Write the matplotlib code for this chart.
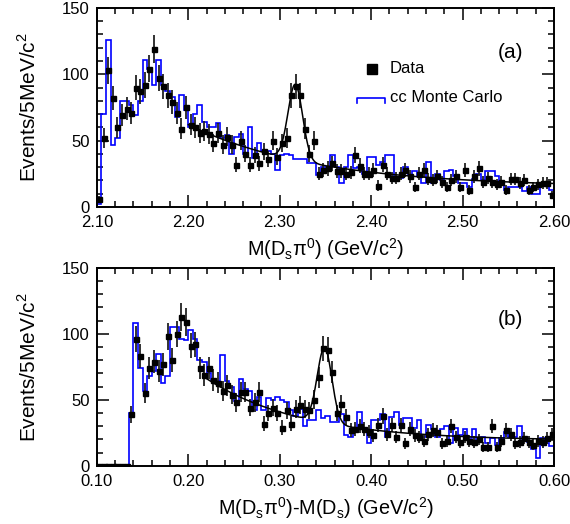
import numpy as np
import matplotlib
matplotlib.use("Agg")
import matplotlib.pyplot as plt
from matplotlib.ticker import MultipleLocator

plt.rcParams['font.family'] = ['Liberation Sans', 'DejaVu Sans']
plt.rcParams['mathtext.fontset'] = 'custom'
plt.rcParams['mathtext.rm'] = 'Liberation Sans'

# 5 MeV bins
bin_w = 0.005

# (a) M(Ds pi0)
lo_a = 2.10
data_a = [6, 52, 103, 82, 60, 69, 74, 71, 90, 87, 92, 104, 119, 97, 91, 84, 79, 71, 59, 75,
          62, 60, 56, 57, 55, 48, 56, 47, 53, 47, 32, 50, 40, 32, 39, 33, 42, 36, 50, 38,
          48, 52, 84, 91, 84, 59, 40, 50, 25, 28, 29, 33, 27, 27, 25, 26, 39, 31, 25, 25,
          28, 16, 32, 25, 22, 22, 25, 28, 23, 15, 25, 28, 21, 20, 23, 19, 15, 20, 23, 15,
          28, 13, 23, 29, 19, 22, 19, 17, 19, 13, 21, 21, 18, 20, 13, 15, 17, 18, 18, 9]
mc_a = [2, 70, 126, 47, 52, 80, 80, 77, 69, 80, 111, 104, 92, 111, 92, 87, 83, 68, 84, 73,
        60, 70, 77, 64, 60, 60, 63, 52, 54, 40, 53, 55, 40, 60, 37, 48, 42, 42, 40, 28,
        39, 40, 39, 36, 36, 36, 33, 33, 24, 30, 30, 39, 30, 18, 30, 39, 29, 30, 25, 38,
        38, 32, 34, 39, 39, 22, 22, 30, 24, 27, 23, 18, 34, 18, 25, 20, 27, 28, 23, 18,
        18, 15, 21, 25, 20, 27, 27, 23, 18, 13, 15, 15, 15, 12, 15, 10, 10, 18, 18, 13]
# fit: exponential background + gaussian
fit_a = dict(start=2.20, const=15, amp_bg=47, slope=7.15, mean=2.317, sigma=0.008, amp=57)

# (b) M(Ds pi0) - M(Ds)
lo_b = 0.10
data_b = [0, 0, 0, 0, 0, 0, 0, 39, 96, 83, 55, 74, 79, 72, 77, 98, 80, 100, 113, 109,
          91, 92, 74, 69, 74, 65, 63, 57, 61, 54, 48, 56, 56, 44, 48, 56, 32, 40, 44, 40,
          29, 42, 32, 43, 46, 43, 42, 50, 67, 89, 88, 71, 40, 47, 37, 27, 28, 30, 28, 26,
          23, 31, 38, 24, 31, 22, 31, 17, 28, 23, 22, 19, 24, 27, 26, 17, 19, 30, 22, 18,
          22, 19, 18, 20, 14, 14, 30, 14, 19, 27, 24, 17, 18, 21, 18, 16, 19, 18, 21, 24]
mc_b = [0, 0, 0, 0, 0, 0, 0, 40, 108, 74, 57, 68, 72, 85, 63, 68, 105, 105, 96, 95,
        103, 96, 80, 79, 70, 65, 64, 84, 64, 60, 49, 66, 58, 57, 42, 52, 42, 51, 50, 52,
        50, 48, 42, 38, 43, 30, 35, 35, 42, 36, 38, 33, 33, 39, 23, 22, 28, 41, 28, 17,
        35, 35, 39, 22, 37, 41, 31, 36, 36, 29, 35, 22, 31, 28, 22, 28, 30, 17, 29, 23,
        28, 21, 28, 19, 22, 17, 21, 16, 21, 26, 22, 22, 30, 20, 18, 13, 6, 21, 17, 15]
fit_b = dict(start=0.22, const=19, amp_bg=47, slope=9.6, mean=0.349, sigma=0.008, amp=57)

xlabel_a = 'M(D$_\\mathregular{s}$π$^\\mathregular{0}$) (GeV/c$^\\mathregular{2}$)'
xlabel_b = 'M(D$_\\mathregular{s}$π$^\\mathregular{0}$)-M(D$_\\mathregular{s}$) (GeV/c$^\\mathregular{2}$)'
ylabel = 'Events/5MeV/c$^\\mathregular{2}$'

fig = plt.figure(figsize=(5.70, 5.24), dpi=100)
ax_a = fig.add_axes([0.170, 0.605, 0.802, 0.380])
ax_b = fig.add_axes([0.170, 0.111, 0.802, 0.378])


def draw(ax, lo, data, mc, fit, xlabel, tag, legend=False):
    n = len(data)
    edges = lo + bin_w * np.arange(n + 1)
    centers = lo + bin_w * (np.arange(n) + 0.5)
    data = np.array(data, dtype=float)
    ax.stairs(mc, edges, color='#0000ff', lw=1.2, zorder=2)
    ax.errorbar(centers, data, yerr=np.sqrt(data), fmt='s', ms=3.6, color='black',
                ecolor='#222222', elinewidth=1.3, capsize=0, zorder=3)
    xf = np.linspace(fit['start'], lo + 0.5, 600)
    yf = (fit['const'] + fit['amp_bg'] * np.exp(-fit['slope'] * (xf - fit['start']))
          + fit['amp'] * np.exp(-0.5 * ((xf - fit['mean']) / fit['sigma']) ** 2))
    ax.plot(xf, yf, color='black', lw=1.1, zorder=4)

    ax.set_xlim(lo, lo + 0.5)
    ax.set_ylim(0, 150)
    ax.xaxis.set_major_locator(MultipleLocator(0.1))
    ax.xaxis.set_minor_locator(MultipleLocator(0.02))
    ax.yaxis.set_major_locator(MultipleLocator(50))
    ax.yaxis.set_minor_locator(MultipleLocator(10))
    ax.xaxis.set_major_formatter(matplotlib.ticker.FormatStrFormatter('%.2f'))
    ax.tick_params(which='both', direction='in', top=True, right=True, width=1.1,
                   labelsize=12)
    ax.tick_params(which='major', length=8.5)
    ax.tick_params(which='minor', length=4.5)
    ax.tick_params(axis='x', pad=6)
    ax.tick_params(axis='y', pad=5)
    for s in ax.spines.values():
        s.set_linewidth(1.4)
    ax.set_xlabel(xlabel, fontsize=14.3, labelpad=4)
    ax.set_ylabel(ylabel, fontsize=15, labelpad=16)
    ax.text(0.904, 0.775 if legend else 0.74, tag, transform=ax.transAxes,
            fontsize=15, ha='center', va='center')

    if legend:
        ax.plot([0.602], [0.693], 's', ms=6.5, color='black', transform=ax.transAxes)
        ax.text(0.641, 0.693, 'Data', transform=ax.transAxes, fontsize=12,
                ha='left', va='center')
        ax.plot([0.568, 0.568, 0.630, 0.630], [0.522, 0.546, 0.546, 0.522],
                color='#0000ff', lw=1.2, transform=ax.transAxes)
        ax.text(0.641, 0.548, 'cc Monte Carlo', transform=ax.transAxes, fontsize=12,
                ha='left', va='center')


draw(ax_a, lo_a, data_a, mc_a, fit_a, xlabel_a, '(a)', legend=True)
draw(ax_b, lo_b, data_b, mc_b, fit_b, xlabel_b, '(b)')

fig.savefig('out.png', dpi=100)
